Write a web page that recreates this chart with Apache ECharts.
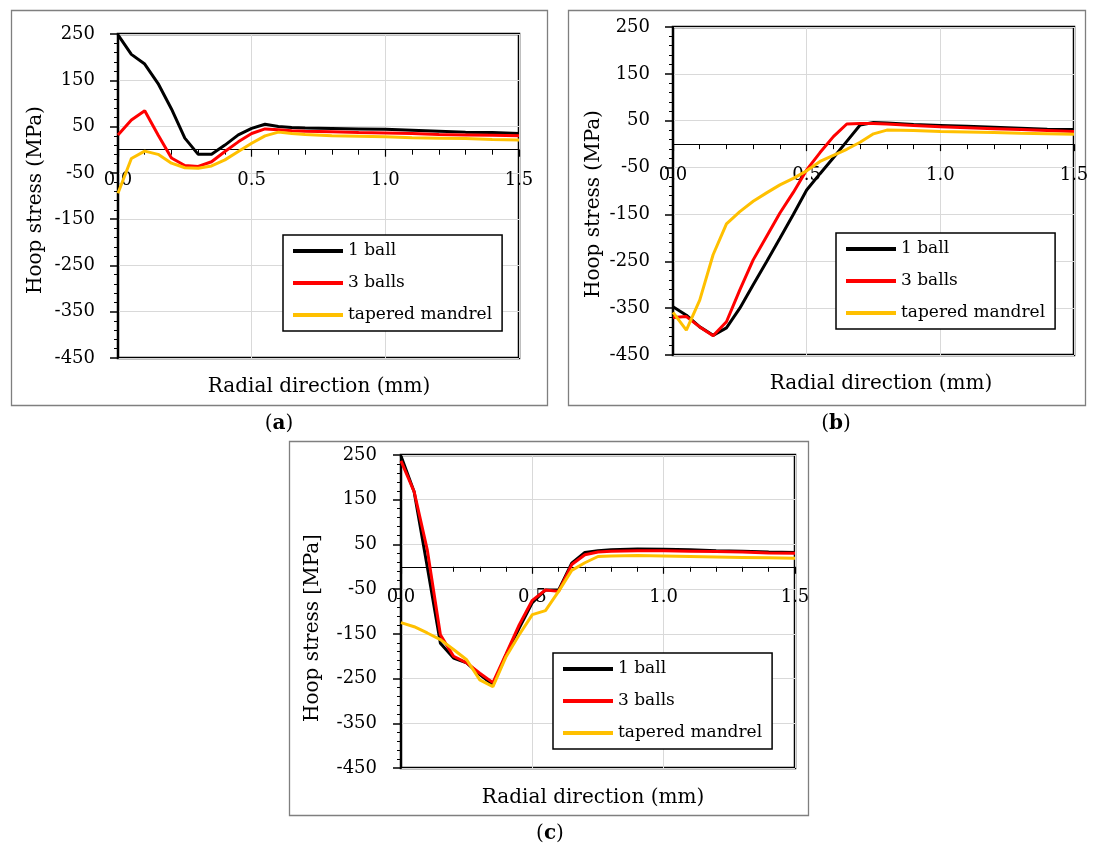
<!DOCTYPE html>
<html>
<head>
<meta charset="utf-8">
<script src="https://cdn.jsdelivr.net/npm/echarts@6/dist/echarts.min.js"></script>
<style>html,body{margin:0;padding:0;background:#fff;}#c{width:1097px;height:849px;}</style>
</head>
<body>
<div id="c"></div>
<script>
// ---- data ----
const seriesNames = ['1 ball', '3 balls', 'tapered mandrel'];
const xTickLabels = ['0.0', '0.5', '1.0', '1.5'];
const yTickLabels = ['-450', '-350', '-250', '-150', '-50', '50', '150', '250'];

// panel (a)
const xA = [0, 0.05, 0.1, 0.15, 0.2, 0.25, 0.3, 0.35, 0.4, 0.45, 0.5, 0.55, 0.6, 0.65, 0.7, 0.8, 0.9, 1.0, 1.1, 1.2, 1.3, 1.4, 1.5];
const oneBallA = [248, 206, 185, 143, 88, 25, -10, -10, 10, 32, 46, 55, 50, 48, 47, 46, 45, 44, 42, 40, 38, 37, 35];
const threeBallsA = [32, 64, 84, 32, -18, -34, -36, -26, -4, 17, 35, 45, 43, 41, 40, 39, 37, 36, 35, 33, 32, 31, 30];
const mandrelA = [-94, -19, -3, -10, -29, -39, -40, -35, -22, -4, 14, 30, 38, 35, 33, 30, 29, 28, 26, 25, 24, 22, 21];

// panel (b)
const xB = [0, 0.05, 0.1, 0.15, 0.2, 0.25, 0.3, 0.35, 0.4, 0.45, 0.5, 0.55, 0.6, 0.65, 0.7, 0.75, 0.8, 0.9, 1.0, 1.1, 1.2, 1.3, 1.4, 1.5];
const oneBallB = [-347, -365, -390, -408, -392, -350, -300, -251, -201, -150, -98, -63, -29, 6, 41, 46, 45, 42, 40, 38, 36, 34, 32, 31];
const threeBallsB = [-370, -368, -390, -409, -379, -311, -247, -197, -147, -103, -55, -18, 16, 43, 44, 44, 43, 40, 37, 35, 33, 31, 29, 27];
const mandrelB = [-359, -397, -333, -236, -170, -144, -122, -104, -87, -73, -57, -37, -24, -11, 4, 22, 30, 29, 27, 26, 25, 23, 22, 21];

// panel (c)
const xC = [0, 0.05, 0.1, 0.15, 0.2, 0.25, 0.3, 0.35, 0.4, 0.45, 0.5, 0.55, 0.6, 0.65, 0.7, 0.75, 0.8, 0.9, 1.0, 1.1, 1.2, 1.3, 1.4, 1.5];
const oneBallC = [248, 168, 0, -171, -204, -215, -241, -264, -197, -137, -80, -52, -52, 8, 32, 36, 38, 40, 39, 38, 36, 35, 33, 32];
const threeBallsC = [237, 168, 38, -152, -200, -215, -238, -259, -195, -130, -75, -52, -55, 5, 27, 33, 35, 36, 36, 35, 34, 33, 31, 30];
const mandrelC = [-125, -134, -148, -163, -185, -208, -253, -268, -201, -152, -107, -98, -55, -8, 9, 23, 24, 25, 24, 23, 22, 21, 20, 19];

// ---- layout / style ----
const FONT = 'DejaVu Serif';
const colors = ['#000000', '#ff0000', '#ffc000'];
const Y_MIN = -450, Y_MAX = 250;
const grids = [
  {left: 118, top: 34, width: 401, height: 324},
  {left: 673, top: 27, width: 401, height: 328},
  {left: 401, top: 455, width: 394, height: 313}
];
const yLabelMargin = [23, 23, 24];
const panels = [
  {x: xA, ys: [oneBallA, threeBallsA, mandrelA]},
  {x: xB, ys: [oneBallB, threeBallsB, mandrelB]},
  {x: xC, ys: [oneBallC, threeBallsC, mandrelC]}
];

// x axis sits on the y = 0 line: shift it up from the grid bottom by the zero's distance
const xAxes = grids.map((g, i) => ({
  type: 'value', gridIndex: i, min: 0, max: 1.5, interval: 0.5, position: 'bottom',
  offset: -g.height * (0 - Y_MIN) / (Y_MAX - Y_MIN),
  axisLine: {show: true, onZero: false, lineStyle: {color: '#000', width: 1.2}},
  axisTick: {show: true, length: 7, lineStyle: {color: '#000', width: 1.2}},
  minorTick: {show: true, splitNumber: 5, length: 5, lineStyle: {color: '#000', width: 1}},
  splitLine: {show: true, lineStyle: {color: '#d9d9d9', width: 1}},
  axisLabel: {margin: 22, color: '#000', fontFamily: FONT, fontSize: 18,
    formatter: v => xTickLabels[Math.round(v / 0.5)] ?? ''},
  showMinLabel: true, showMaxLabel: true
}));
const yAxes = grids.map((g, i) => ({
  type: 'value', gridIndex: i, min: Y_MIN, max: Y_MAX, interval: 100,
  axisLine: {show: true, onZero: false, lineStyle: {color: '#000', width: 2}},
  axisTick: {show: true, length: 8, lineStyle: {color: '#000', width: 1.5}},
  minorTick: {show: true, splitNumber: 5, length: 4, lineStyle: {color: '#000', width: 1}},
  splitLine: {show: true, lineStyle: {color: '#d9d9d9', width: 1}},
  axisLabel: {margin: yLabelMargin[i], color: '#000', fontFamily: FONT, fontSize: 18,
    formatter: v => { const idx = Math.round((v - Y_MIN) / 100); return yTickLabels[idx] ?? ''; }}
}));

const series = [];
panels.forEach((p, gi) => {
  p.ys.forEach((ys, si) => {
    series.push({
      name: seriesNames[si], type: 'line', xAxisIndex: gi, yAxisIndex: gi,
      data: p.x.map((x, k) => [x, ys[k]]),
      symbol: 'none', showSymbol: false, smooth: false,
      lineStyle: {color: colors[si], width: 3}, itemStyle: {color: colors[si]},
      z: 2 + si
    });
  });
});

const legendPos = [
  {left: 283, top: 235},
  {left: 836, top: 233},
  {left: 553, top: 653}
];
const legends = legendPos.map(lp => ({
  left: lp.left, top: lp.top, orient: 'vertical',
  data: seriesNames.map((n, i) => ({name: n, icon: 'rect', itemStyle: {color: colors[i]}})),
  itemWidth: 50, itemHeight: 4, itemGap: 12,
  padding: [6, 10, 6, 10],
  borderColor: '#000', borderWidth: 1.5, backgroundColor: '#fff',
  textStyle: {fontFamily: FONT, fontSize: 17, color: '#000', lineHeight: 20},
  selectedMode: false
}));

function frame(x, y, w, h) {
  return {type: 'rect', shape: {x: x + 0.5, y: y + 0.5, width: w, height: h},
    style: {fill: null, stroke: '#7f7f7f', lineWidth: 1.3}, z: -1, silent: true};
}
function txt(x, y, text, size, rot) {
  return {type: 'text', x: x, y: y, rotation: rot || 0, silent: true,
    style: {text: text, fontFamily: FONT, fontSize: size, fill: '#000', align: 'center', verticalAlign: 'middle'}};
}
function plabel(x, y, letter) {
  return {type: 'text', x: x, y: y, silent: true,
    style: {text: '({b|' + letter + '})', fontFamily: FONT, fontSize: 20, fill: '#000', align: 'center', verticalAlign: 'middle',
      rich: {b: {fontFamily: FONT, fontSize: 20, fontWeight: 'bold', fill: '#000'}}}};
}

const graphic = [
  frame(11, 10, 536, 395),
  frame(568, 10, 517, 395),
  frame(289, 441, 519, 374),
  txt(319, 387, 'Radial direction (mm)', 20),
  txt(881, 384, 'Radial direction (mm)', 20),
  txt(593, 798, 'Radial direction (mm)', 20),
  txt(36, 200, 'Hoop stress (MPa)', 20, Math.PI / 2),
  txt(594, 204, 'Hoop stress (MPa)', 20, Math.PI / 2),
  txt(313, 628, 'Hoop stress [MPa]', 20, Math.PI / 2),
  plabel(279, 424, 'a'),
  plabel(836, 424, 'b'),
  plabel(550, 834, 'c')
];

const chart = echarts.init(document.getElementById('c'), null, {renderer: 'canvas'});
chart.setOption({
  animation: false,
  backgroundColor: '#fff',
  grid: grids.map(g => Object.assign({show: true, borderColor: '#000', borderWidth: 2.5, backgroundColor: 'transparent', containLabel: false}, g)),
  xAxis: xAxes,
  yAxis: yAxes,
  legend: legends,
  series: series,
  graphic: graphic
});
</script>
</body>
</html>
